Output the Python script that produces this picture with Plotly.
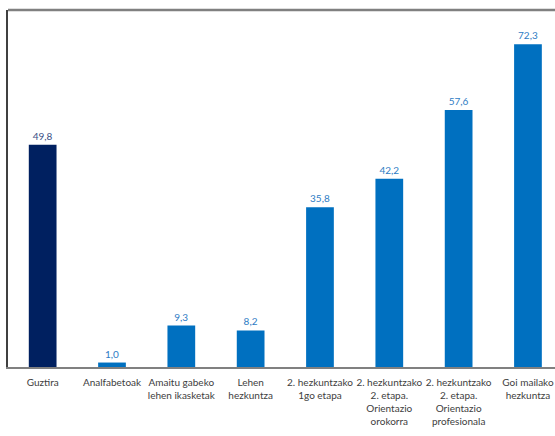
import plotly.graph_objects as go

categories = ["Guztira", "Analfabetoak", "Amaitu gabeko<br>lehen ikasketak", "Lehen<br>hezkuntza",
              "2. hezkuntzako<br>1go etapa", "2. hezkuntzako<br>2. etapa.<br>Orientazio<br>orokorra",
              "2. hezkuntzako<br>2. etapa.<br>Orientazio<br>profesionala", "Goi mailako<br>hezkuntza"]
values = [49.8, 1.0, 9.3, 8.2, 35.8, 42.2, 57.6, 72.3]
bar_colors = ["#002060"] + ["#0070C0"] * 7
label_colors = ["#3A4F86"] + ["#2E7CC4"] * 7
labels = [f"{v:.1f}".replace(".", ",") for v in values]

FONT = "Lato, sans-serif"

fig = go.Figure(go.Bar(
    x=categories, y=values, marker_color=bar_colors, marker_line_width=0,
    text=labels, textposition="outside", cliponaxis=False,
    textfont=dict(size=10, color=label_colors, family=FONT),
    width=0.40,
))
fig.update_layout(
    width=555, height=436, margin=dict(l=8, r=0, t=10, b=69),
    plot_bgcolor="white", paper_bgcolor="white", showlegend=False,
    font=dict(family=FONT, size=10, color="#404040"),
)
fig.update_xaxes(showline=True, linecolor="#808080", linewidth=2, tickfont=dict(size=10, color="#404040"),
                 ticks="", ticklen=0, tickangle=0, automargin=False, ticklabelstandoff=5,
                 range=[-0.5, 7.39])
fig.update_yaxes(range=[0, 80], showticklabels=False, showgrid=False, zeroline=False,
                 showline=True, linecolor="#404040", linewidth=1.5, automargin=False)
fig.add_shape(type="line", xref="paper", yref="paper", x0=0, x1=1, y0=1, y1=1,
              line=dict(color="#808080", width=2.5))
fig.write_html("out.html", config={"displayModeBar": False},
               post_script="document.body.style.margin='0';document.body.style.overflow='hidden';")
